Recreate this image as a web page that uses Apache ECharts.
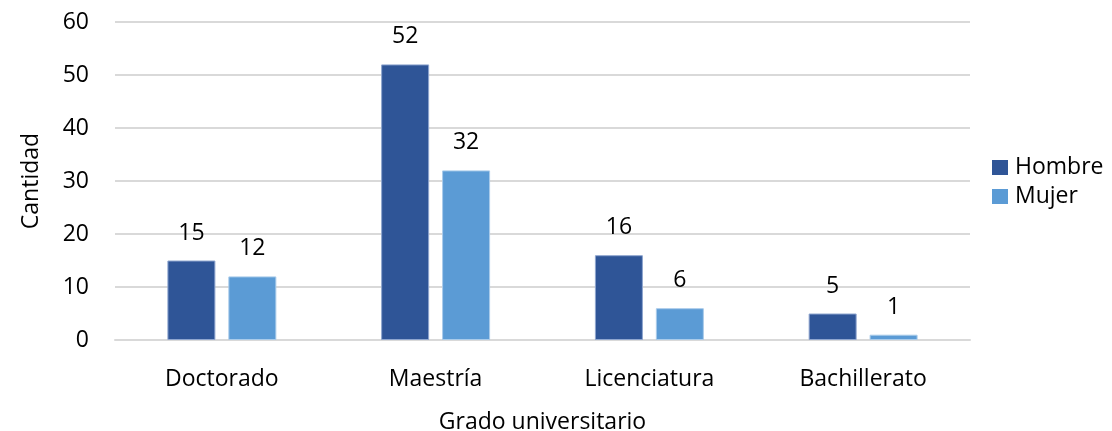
<!DOCTYPE html>
<html>
<head>
<meta charset="utf-8">
<script src="https://cdn.jsdelivr.net/npm/echarts@6/dist/echarts.min.js"></script>
<style>
html, body { margin: 0; padding: 0; background: #fff; }
#chart { width: 1112px; height: 431px; }
</style>
</head>
<body>
<div id="chart"></div>
<script>
// datos
var categorias = ["Doctorado", "Maestría", "Licenciatura", "Bachillerato"];
var hombre = [15, 52, 16, 5];
var mujer = [12, 32, 6, 1];
var yTicks = [0, 10, 20, 30, 40, 50, 60];

var fuente = "'Open Sans', 'Noto Sans', sans-serif";
var tam = 23;

var myChart = echarts.init(document.getElementById("chart"));

var option = {
    animation: false,
    textStyle: { fontFamily: fuente },
    grid: { left: 115, right: 142, top: 22, bottom: 91, outerBoundsMode: "none", containLabel: false },
    legend: {
        orient: "vertical",
        left: 987,
        top: 151,
        itemWidth: 16,
        itemHeight: 15,
        itemGap: 6,
        icon: "rect",
        itemStyle: { borderWidth: 0 },
        textStyle: { fontSize: tam, lineHeight: 15, color: "#000", fontFamily: fuente, padding: [0, 0, 0, 2] },
        data: ["Hombre", "Mujer"]
    },
    xAxis: {
        type: "category",
        data: categorias,
        name: "Grado universitario",
        nameLocation: "middle",
        nameGap: 71,
        nameTextStyle: { fontSize: tam, color: "#000", fontFamily: fuente },
        axisLine: { show: true, lineStyle: { color: "#d9d9d9", width: 2 } },
        axisTick: { show: false },
        axisLabel: { fontSize: tam, color: "#000", margin: 28, fontFamily: fuente }
    },
    yAxis: {
        type: "value",
        min: yTicks[0],
        max: yTicks[yTicks.length - 1],
        interval: 10,
        name: "Cantidad",
        nameLocation: "middle",
        nameGap: 72,
        nameTextStyle: { fontSize: tam, color: "#000", fontFamily: fuente },
        axisLine: { show: false },
        axisTick: { show: false },
        axisLabel: { fontSize: tam, color: "#000", margin: 26, fontFamily: fuente },
        splitLine: { lineStyle: { color: "#d9d9d9", width: 2 } }
    },
    series: [
        {
            name: "Hombre",
            type: "bar",
            data: hombre,
            barWidth: 48,
            barGap: "27%",
            itemStyle: { color: "#2F5597", borderColor: "#8fa6cf", borderWidth: 1 },
            label: { show: true, position: "top", distance: 16, fontSize: tam, color: "#000", fontFamily: fuente }
        },
        {
            name: "Mujer",
            type: "bar",
            data: mujer,
            barWidth: 48,
            itemStyle: { color: "#5B9BD5", borderColor: "#a9cbea", borderWidth: 1 },
            label: { show: true, position: "top", distance: 16, fontSize: tam, color: "#000", fontFamily: fuente }
        }
    ]
};

myChart.setOption(option);
</script>
</body>
</html>
